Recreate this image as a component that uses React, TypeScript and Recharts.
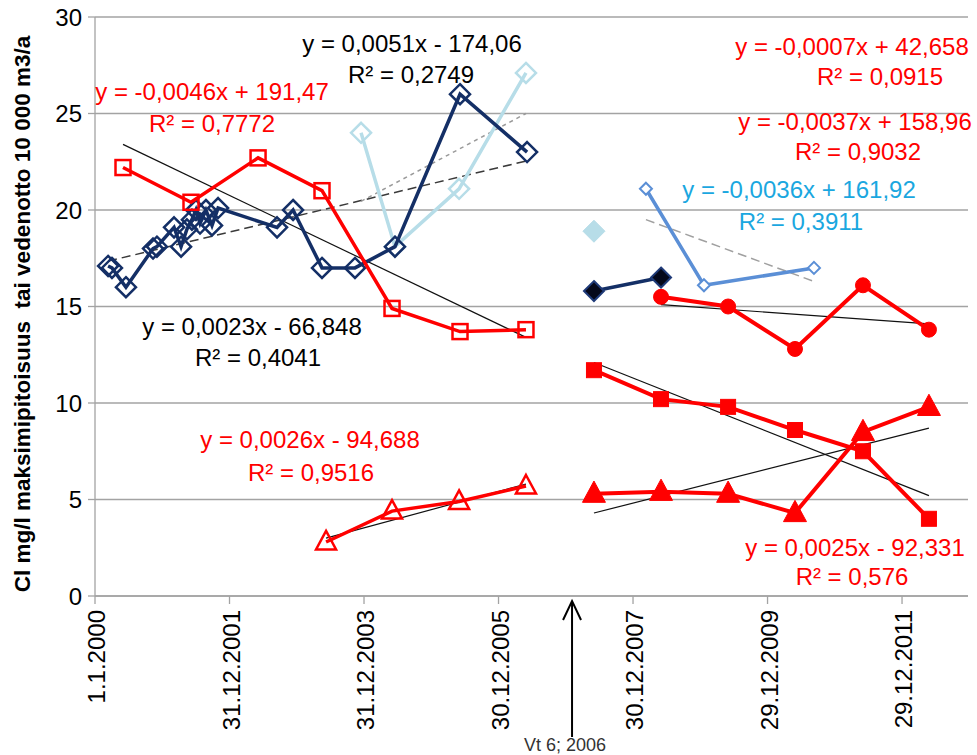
import React from 'react';
import { ScatterChart, Scatter, XAxis, YAxis, CartesianGrid, ReferenceLine } from 'recharts';

// X axis: Excel date serials
const xDomain = [36526, 41264];
const xTicks = [36526, 37256, 37986, 38716, 39446, 40176, 40906];
const xTickLabels = ['1.1.2000', '31.12.2001', '31.12.2003', '30.12.2005', '30.12.2007', '29.12.2009', '29.12.2011'];
const yTicks = [0, 5, 10, 15, 20, 25, 30];

// Series (date serial, value)
const navyDates = [36597, 36618, 36694, 36841, 36862, 36955, 36993, 37025, 37052, 37074, 37096, 37128, 37161, 37194, 37514, 37601, 37758, 37937, 38154, 38507, 38871];
const navyValues = [17.1, 17.0, 16.0, 18.0, 18.1, 19.1, 18.1, 19.0, 19.5, 20.0, 19.3, 20.0, 19.2, 20.1, 19.1, 20.0, 17.0, 17.0, 18.1, 26.0, 23.0];

const lightDates = [37970, 38154, 38502, 38865];
const lightValues = [24.0, 18.1, 21.1, 27.1];

const redSqOpenDates = [36678, 37047, 37411, 37758, 38138, 38507, 38865];
const redSqOpenValues = [22.2, 20.4, 22.7, 21.0, 14.9, 13.7, 13.8];

const redTriOpenDates = [37780, 38138, 38502, 38865];
const redTriOpenValues = [2.8, 4.4, 4.9, 5.7];

const lightFilledDates = [39234];
const lightFilledValues = [18.9];

const navyFilledDates = [39234, 39598];
const navyFilledValues = [15.8, 16.5];

const midBlueDates = [39516, 39831, 40428];
const midBlueValues = [21.1, 16.1, 17.0];

const laterDates = [39234, 39598, 39962, 40325, 40694, 41052];
const circleDates = [39598, 39962, 40325, 40694, 41052];
const circleValues = [15.5, 15.0, 12.8, 16.1, 13.8];
const squareValues = [11.7, 10.2, 9.8, 8.6, 7.5, 4.0];
const triangleValues = [5.3, 5.4, 5.3, 4.3, 8.5, 9.8];

// Trend line end points [date, value, date, value]
const navyTrend = [36597, 17.35, 38871, 22.55];
const lightTrend = [37970, 20.45, 38865, 25.0];
const redSqOpenTrend = [36678, 23.4, 38865, 13.4];
const redTriOpenTrend = [37780, 3.0, 38865, 5.8];
const midBlueTrend = [39516, 19.5, 40428, 16.3];
const circleTrend = [39598, 15.1, 41052, 14.1];
const squareTrend = [39234, 12.1, 41052, 5.2];
const triangleTrend = [39234, 4.3, 41052, 8.7];

const arrowDate = 39115;

const zip = (d: number[], v: number[]) => d.map((x, i) => ({ x, y: v[i] }));

const RED = '#ff0000';
const NAVY = '#142f66';
const LIGHT = '#b7dde8';
const MID = '#5b8fd6';
const FONT = 'Liberation Sans, Arial, sans-serif';

const diamond = (s: number, stroke: string, fill: string, sw: number) => (p: any) => {
  const { cx, cy } = p;
  if (cx == null || cy == null) return <g />;
  return <path d={`M${cx} ${cy - s}L${cx + s} ${cy}L${cx} ${cy + s}L${cx - s} ${cy}Z`} fill={fill} stroke={stroke} strokeWidth={sw} />;
};
const square = (s: number, stroke: string, fill: string, sw: number) => (p: any) => {
  const { cx, cy } = p;
  if (cx == null || cy == null) return <g />;
  return <rect x={cx - s} y={cy - s} width={2 * s} height={2 * s} fill={fill} stroke={stroke} strokeWidth={sw} />;
};
const triangle = (s: number, stroke: string, fill: string, sw: number) => (p: any) => {
  const { cx, cy } = p;
  if (cx == null || cy == null) return <g />;
  return <path d={`M${cx} ${cy - s * 1.1}L${cx + s} ${cy + s * 0.75}L${cx - s} ${cy + s * 0.75}Z`} fill={fill} stroke={stroke} strokeWidth={sw} strokeLinejoin="miter" />;
};
const circle = (r: number, color: string) => (p: any) => {
  const { cx, cy } = p;
  if (cx == null || cy == null) return <g />;
  return <circle cx={cx} cy={cy} r={r} fill={color} stroke={color} />;
};

const XTick = (props: any) => {
  const { x, y, payload } = props;
  const idx = xTicks.indexOf(payload.value);
  const label = idx >= 0 ? xTickLabels[idx] : '';
  return (
    <text x={x + 2} y={y} transform={`rotate(-90, ${x + 2}, ${y})`} textAnchor="end" dy="0.35em" fontSize={24} fill="#000" fontFamily={FONT}>
      {label}
    </text>
  );
};

const ArrowShape = (p: any) => {
  const { x1, y1, y2 } = p;
  if (x1 == null) return <g />;
  const base = Math.max(y1, y2);
  return (
    <g>
      <line x1={x1} y1={base + 6} x2={x1} y2={base + 141} stroke="#000" strokeWidth={2} />
      <path d={`M${x1 - 9} ${base + 24} L${x1} ${base + 5} L${x1 + 9} ${base + 24}`} fill="none" stroke="#000" strokeWidth={2} />
      <text x={x1 - 7} y={base + 155} textAnchor="middle" fontSize={18} fill="#333" fontFamily={FONT}>Vt 6; 2006</text>
    </g>
  );
};

const seg = (t: number[]) => [{ x: t[0], y: t[1] }, { x: t[2], y: t[3] }] as any;

type Lbl = { text: string; x: number; y: number; color: string };
const eqLabels: Lbl[] = [
  { text: 'y = 0,0051x - 174,06', x: 412, y: 52, color: '#000' },
  { text: 'R² = 0,2749', x: 411, y: 83, color: '#000' },
  { text: 'y = -0,0046x + 191,47', x: 212, y: 100, color: RED },
  { text: 'R² = 0,7772', x: 212, y: 132, color: RED },
  { text: 'y = 0,0023x - 66,848', x: 252, y: 335, color: '#000' },
  { text: 'R² = 0,4041', x: 258, y: 366, color: '#000' },
  { text: 'y = 0,0026x - 94,688', x: 310, y: 448, color: RED },
  { text: 'R² = 0,9516', x: 311, y: 481, color: RED },
  { text: 'y = -0,0007x + 42,658', x: 852, y: 55, color: RED },
  { text: 'R² = 0,0915', x: 880, y: 85, color: RED },
  { text: 'y = -0,0037x + 158,96', x: 855, y: 130, color: RED },
  { text: 'R² = 0,9032', x: 858, y: 160, color: RED },
  { text: 'y = -0,0036x + 161,92', x: 799, y: 198, color: '#1aa7e0' },
  { text: 'R² = 0,3911', x: 801, y: 230, color: '#1aa7e0' },
  { text: 'y = 0,0025x - 92,331', x: 855, y: 556, color: RED },
  { text: 'R² = 0,576', x: 852, y: 585, color: RED },
];

export default function App() {
  return (
    <div style={{ position: 'absolute', left: 0, top: 0, width: 977, height: 755, background: '#fff', fontFamily: FONT }}>
      <ScatterChart width={977} height={755} margin={{ top: 17, right: 9, bottom: 0, left: 0 }}>
        <CartesianGrid vertical={false} stroke="#a3a3a3" strokeWidth={1.3} />
        <XAxis
          type="number"
          dataKey="x"
          domain={xDomain}
          ticks={xTicks}
          interval={0}
          allowDataOverflow
          height={159}
          tick={<XTick />}
          tickSize={8}
          tickMargin={6}
          axisLine={{ stroke: '#a3a3a3', strokeWidth: 1.3 }}
          tickLine={{ stroke: '#a3a3a3', strokeWidth: 1.3 }}
        />
        <YAxis
          type="number"
          dataKey="y"
          domain={[0, 30]}
          ticks={yTicks}
          interval={0}
          width={95}
          tickSize={7}
          tickMargin={6}
          tick={{ fill: '#000', fontSize: 24, fontFamily: FONT }}
          axisLine={{ stroke: '#a3a3a3', strokeWidth: 1.3 }}
          tickLine={{ stroke: '#a3a3a3', strokeWidth: 1.3 }}
        />

        <Scatter data={zip(lightDates, lightValues)} line={{ stroke: LIGHT, strokeWidth: 3.5 }} lineType="joint" shape={diamond(10, LIGHT, 'none', 2.5)} isAnimationActive={false} />
        <Scatter data={zip(navyDates, navyValues)} line={{ stroke: NAVY, strokeWidth: 3.5 }} lineType="joint" shape={diamond(10, NAVY, 'none', 2.5)} isAnimationActive={false} />
        <Scatter data={zip(redSqOpenDates, redSqOpenValues)} line={{ stroke: RED, strokeWidth: 3.5 }} lineType="joint" shape={square(7.5, RED, 'none', 2.5)} isAnimationActive={false} />
        <Scatter data={zip(redTriOpenDates, redTriOpenValues)} line={{ stroke: RED, strokeWidth: 3.5 }} lineType="joint" shape={triangle(10, RED, 'none', 2.5)} isAnimationActive={false} />

        <Scatter data={zip(lightFilledDates, lightFilledValues)} shape={diamond(11, LIGHT, LIGHT, 1)} isAnimationActive={false} />
        <Scatter data={zip(navyFilledDates, navyFilledValues)} line={{ stroke: NAVY, strokeWidth: 3.5 }} lineType="joint" shape={diamond(10, '#1f3a78', '#05081a', 2)} isAnimationActive={false} />
        <Scatter data={zip(midBlueDates, midBlueValues)} line={{ stroke: MID, strokeWidth: 3.5 }} lineType="joint" shape={diamond(6, MID, '#fff', 2)} isAnimationActive={false} />
        <Scatter data={zip(circleDates, circleValues)} line={{ stroke: RED, strokeWidth: 4 }} lineType="joint" shape={circle(7.5, RED)} isAnimationActive={false} />
        <Scatter data={zip(laterDates, squareValues)} line={{ stroke: RED, strokeWidth: 4 }} lineType="joint" shape={square(7.5, RED, RED, 1)} isAnimationActive={false} />
        <Scatter data={zip(laterDates, triangleValues)} line={{ stroke: RED, strokeWidth: 4 }} lineType="joint" shape={triangle(11.5, RED, RED, 1)} isAnimationActive={false} />

        <ReferenceLine segment={seg(navyTrend)} stroke="#3a3a3a" strokeWidth={1.5} strokeDasharray="9 5" ifOverflow="visible" />
        <ReferenceLine segment={seg(lightTrend)} stroke="#9a9a9a" strokeWidth={1.5} strokeDasharray="4 4" ifOverflow="visible" />
        <ReferenceLine segment={seg(midBlueTrend)} stroke="#a0a0a0" strokeWidth={1.5} strokeDasharray="9 5" ifOverflow="visible" />
        <ReferenceLine segment={seg(redSqOpenTrend)} stroke="#111" strokeWidth={1.2} ifOverflow="visible" />
        <ReferenceLine segment={seg(redTriOpenTrend)} stroke="#111" strokeWidth={1.2} ifOverflow="visible" />
        <ReferenceLine segment={seg(circleTrend)} stroke="#111" strokeWidth={1.2} ifOverflow="visible" />
        <ReferenceLine segment={seg(squareTrend)} stroke="#111" strokeWidth={1.2} ifOverflow="visible" />
        <ReferenceLine segment={seg(triangleTrend)} stroke="#111" strokeWidth={1.2} ifOverflow="visible" />
        <ReferenceLine x={arrowDate} ifOverflow="visible" shape={<ArrowShape />} />
      </ScatterChart>
      <svg width={977} height={755} style={{ position: 'absolute', left: 0, top: 0, pointerEvents: 'none' }}>
        <text
          x={22}
          y={314}
          transform="rotate(-90, 22, 314)"
          textAnchor="middle"
          dy="0.35em"
          fontSize={22.5}
          fontWeight="bold"
          fill="#000"
          fontFamily={FONT}
          style={{ whiteSpace: 'pre' }}
        >
          {'Cl mg/l maksimipitoisuus  tai vedenotto 10 000 m3/a'}
        </text>
        {eqLabels.map((l, i) => (
          <text key={i} x={l.x} y={l.y} textAnchor="middle" fontSize={24} fill={l.color} fontFamily={FONT}>
            {l.text}
          </text>
        ))}
      </svg>
    </div>
  );
}
